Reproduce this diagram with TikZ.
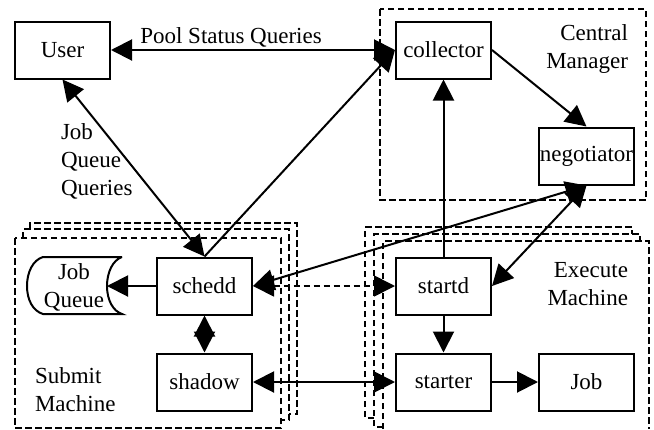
\documentclass[tikz,border=0pt]{standalone}
\usepackage{fontspec}
\setmainfont{Liberation Serif}
\usetikzlibrary{arrows.meta}

\begin{document}
\begin{tikzpicture}
	[x=1pt,y=-1pt,line width=2pt,
	box/.style={draw,minimum width=95pt,minimum height=57pt,inner sep=0pt,fill=white,font=\fontsize{23}{28}\selectfont},
	lbl/.style={inner sep=0pt,font=\fontsize{23}{28}\selectfont},
	machine/.style={dash pattern=on 6.5pt off 3.5pt,line width=1.7pt},
	edge/.style={{Triangle[length=21pt,width=21pt]}-{Triangle[length=21pt,width=21pt]}},
	oneway/.style={-{Triangle[length=21pt,width=21pt]}}]
	\useasboundingbox (0,0) rectangle (654,429);

	% machine outlines
	\draw[machine] (380,9) rectangle (646,200);
	\draw[machine] (15,238) rectangle (281,428);
	\draw[machine] (23,238) -- (23,229) -- (289,229) -- (289,420) -- (281,420);
	\draw[machine] (30,229) -- (30,223) -- (297,223) -- (297,414) -- (289,414);
	\draw[machine] (383,429) -- (383,241) -- (649,241) -- (649,429);
	\draw[machine] (383,427) -- (374,427) -- (374,234) -- (640,234) -- (640,241);
	\draw[machine] (374,418) -- (365,418) -- (365,227) -- (632,227) -- (632,234);

	% job queue drum
	\draw (122,257) -- (43,257) .. controls (33,260) and (27,272) .. (27,286)
		.. controls (27,300) and (33,311) .. (43,314) -- (122,314)
		.. controls (113,311) and (107,300) .. (107,286)
		.. controls (107,272) and (113,260) .. (122,257);
	\coordinate (qend) at (107,286);

	\node[box] (user) at (62.5,50) {User};
	\node[box] (collector) at (443.5,50) {collector};
	\node[box] (negotiator) at (586.5,156) {negotiator};
	\node[box] (schedd) at (204.5,286) {schedd};
	\node[box] (shadow) at (204.5,382) {shadow};
	\node[box] (startd) at (443.5,286) {startd};
	\node[box] (starter) at (443.5,382) {starter};
	\node[box] (job) at (586.5,382) {Job};

	\node[lbl,align=center] (queue) at (74,287) {Job\\Queue};
	\node[lbl] (pool) at (231,37) {Pool Status Queries};
	\node[lbl,align=left,anchor=west] (jqq) at (60,161) {Job\\Queue\\Queries};
	\node[lbl,align=left,anchor=west] (submit) at (34,390) {Submit\\Machine};
	\node[lbl,align=right,anchor=east] (execute) at (629,284) {Execute\\Machine};
	\node[lbl,align=right,anchor=east] (central) at (629,49) {Central\\Manager};

	\foreach \from/\to in {user.east/collector.west,user.south/schedd.north,
		schedd.east/negotiator.south,startd.east/negotiator.south,
		schedd.south/shadow.north,shadow.east/starter.west}
	\draw[edge] (\from) -- (\to);

	\foreach \from/\to in {schedd.north/collector.west,startd.north/collector.south,
		collector.east/negotiator.north,schedd.west/qend,
		startd.south/starter.north,starter.east/job.west}
	\draw[oneway] (\from) -- (\to);

	\draw[edge,dash pattern=on 6.5pt off 3.5pt,line width=1.7pt] (schedd.east) -- (startd.west);
\end{tikzpicture}
\end{document}
